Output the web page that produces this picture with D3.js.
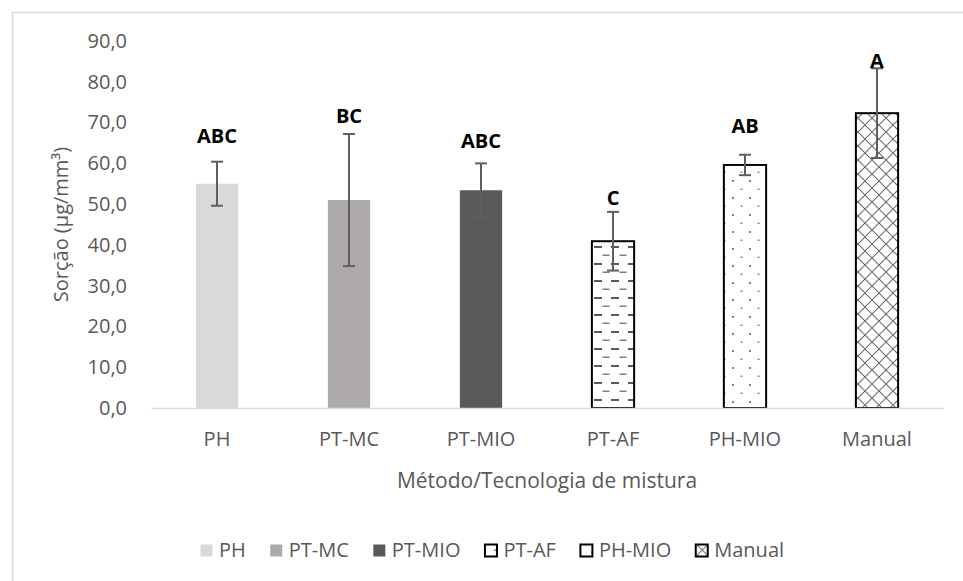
<!DOCTYPE html>
<html>
<head>
<meta charset="utf-8">
<script src="https://cdn.jsdelivr.net/npm/d3@7"></script>
<style>
    body { margin: 0; background: #fff; }
    svg { display: block; font-family: "Open Sans", sans-serif; }
</style>
</head>
<body>
<div id="chart"></div>
<script>
    var categories = ["PH", "PT-MC", "PT-MIO", "PT-AF", "PH-MIO", "Manual"];
    var means = [55.0, 51.0, 53.4, 40.9, 59.6, 72.3];
    var errors = [5.4, 16.2, 6.6, 7.2, 2.5, 11.0];
    var letters = ["ABC", "BC", "ABC", "C", "AB", "A"];
    var letterAt = [65.0, 69.9, 63.7, 49.8, 67.4, 83.3];
    var yTicks = [0, 10, 20, 30, 40, 50, 60, 70, 80, 90];

    var width = 963, height = 581,
        margin = {top: 41, right: 20, bottom: 173, left: 151},
        plotW = 943 - margin.left,
        plotH = 408 - margin.top,
        textColor = "#595959",
        axisColor = "#d9d9d9";

    // fill per category: solid greys, then three hatched ones
    var fills = ["#d9d9d9", "#aeaaaa", "#595959", "url(#dash)", "url(#dots)", "url(#cross)"];
    var outlined = [false, false, false, true, true, true];

    var svg = d3.select("#chart").append("svg")
        .attr("width", width)
        .attr("height", height);

    var defs = svg.append("defs");

    var dash = defs.append("pattern")
        .attr("id", "dash")
        .attr("patternUnits", "userSpaceOnUse")
        .attr("width", 17).attr("height", 17);
    dash.append("rect").attr("width", 17).attr("height", 17).attr("fill", "#fff");
    dash.append("rect").attr("x", 1).attr("y", 1).attr("width", 8).attr("height", 2).attr("fill", "#595959");
    dash.append("rect").attr("x", 9.5).attr("y", 9.5).attr("width", 7).attr("height", 1.5).attr("fill", "#7f7f7f");

    var dots = defs.append("pattern")
        .attr("id", "dots")
        .attr("patternUnits", "userSpaceOnUse")
        .attr("width", 17).attr("height", 17);
    dots.append("rect").attr("width", 17).attr("height", 17).attr("fill", "#fff");
    dots.append("rect").attr("x", 3).attr("y", 3).attr("width", 2).attr("height", 2).attr("fill", "#7f7f7f");
    dots.append("rect").attr("x", 11.5).attr("y", 11.5).attr("width", 2).attr("height", 1.5).attr("fill", "#8c8c8c");

    var cross = defs.append("pattern")
        .attr("id", "cross")
        .attr("patternUnits", "userSpaceOnUse")
        .attr("width", 14).attr("height", 14);
    cross.append("rect").attr("width", 14).attr("height", 14).attr("fill", "#fff");
    cross.append("path")
        .attr("d", "M0,0L14,14M14,0L0,14")
        .attr("stroke", "#6f6f6f")
        .attr("stroke-width", 1.1)
        .attr("fill", "none");

    // chart area border (cropped on the right and bottom)
    svg.append("path")
        .attr("d", "M12.5," + height + "V12.5H" + width)
        .attr("fill", "none")
        .attr("stroke", axisColor)
        .attr("stroke-width", 1.5);

    var g = svg.append("g")
        .attr("transform", "translate(" + margin.left + "," + margin.top + ")");

    var x = d3.scaleBand().domain(categories).range([0, plotW]).paddingInner(0.68).paddingOuter(0.34);
    var y = d3.scaleLinear().domain([0, 90]).range([plotH, 0]);

    // y axis labels only
    var yAxis = d3.axisLeft(y)
        .tickValues(yTicks)
        .tickSize(0)
        .tickPadding(24)
        .tickFormat(function (d) { return d3.format(".1f")(d).replace(".", ","); });
    var yG = g.append("g").call(yAxis);
    yG.select(".domain").remove();
    yG.selectAll("text")
        .attr("fill", textColor)
        .style("font-size", "20px")
        .style("font-family", "Open Sans, sans-serif");

    // bars
    g.selectAll(".bar")
        .data(categories)
        .enter()
        .append("rect")
        .attr("class", "bar")
        .attr("x", function (d) { return x(d); })
        .attr("y", function (d, i) { return y(means[i]); })
        .attr("width", x.bandwidth())
        .attr("height", function (d, i) { return y(0) - y(means[i]); })
        .attr("fill", function (d, i) { return fills[i]; })
        .attr("stroke", function (d, i) { return outlined[i] ? "#000" : "none"; })
        .attr("stroke-width", 2);

    // x axis
    var xAxis = d3.axisBottom(x).tickSize(0).tickPadding(24);
    var xG = g.append("g")
        .attr("transform", "translate(0," + plotH + ")")
        .call(xAxis);
    xG.select(".domain")
        .attr("stroke", axisColor)
        .attr("stroke-width", 1.5);
    xG.selectAll("text")
        .attr("fill", textColor)
        .style("font-size", "20px")
        .style("font-family", "Open Sans, sans-serif");

    // error bars
    var err = g.selectAll(".err")
        .data(categories)
        .enter()
        .append("g")
        .attr("class", "err")
        .attr("transform", function (d) { return "translate(" + (x(d) + x.bandwidth() / 2) + ",0)"; })
        .attr("stroke", "#5f5f5f")
        .attr("stroke-width", 2);
    err.append("line")
        .attr("y1", function (d, i) { return y(means[i] + errors[i]); })
        .attr("y2", function (d, i) { return y(means[i] - errors[i]); });
    err.append("line")
        .attr("x1", -6).attr("x2", 6)
        .attr("y1", function (d, i) { return y(means[i] + errors[i]); })
        .attr("y2", function (d, i) { return y(means[i] + errors[i]); });
    err.append("line")
        .attr("x1", -6).attr("x2", 6)
        .attr("y1", function (d, i) { return y(means[i] - errors[i]); })
        .attr("y2", function (d, i) { return y(means[i] - errors[i]); });

    // significance letters
    g.selectAll(".letter")
        .data(categories)
        .enter()
        .append("text")
        .attr("class", "letter")
        .attr("x", function (d) { return x(d) + x.bandwidth() / 2; })
        .attr("y", function (d, i) { return y(letterAt[i]); })
        .attr("text-anchor", "middle")
        .attr("font-size", 20)
        .attr("font-weight", "bold")
        .attr("fill", "#000")
        .text(function (d, i) { return letters[i]; });

    // axis titles
    g.append("text")
        .attr("x", plotW / 2)
        .attr("y", 488 - margin.top)
        .attr("text-anchor", "middle")
        .attr("font-size", 21)
        .attr("fill", textColor)
        .text("Método/Tecnologia de mistura");

    g.append("text")
        .attr("transform", "translate(" + (68 - margin.left) + "," + (plotH / 2) + ") rotate(-90)")
        .attr("text-anchor", "middle")
        .attr("font-size", 20)
        .attr("fill", textColor)
        .text("Sorção (µg/mm³)");

    // legend
    var legend = svg.append("g").attr("class", "legend");
    var items = legend.selectAll(".item")
        .data(categories)
        .enter()
        .append("g")
        .attr("class", "item");
    items.append("rect")
        .attr("x", 0.5).attr("y", -12.5)
        .attr("width", 12).attr("height", 12)
        .attr("fill", function (d, i) { return fills[i]; })
        .attr("stroke", function (d, i) { return outlined[i] ? "#000" : "none"; })
        .attr("stroke-width", 2);
    items.append("text")
        .attr("x", 19)
        .attr("y", 0)
        .attr("font-size", 20)
        .attr("fill", textColor)
        .text(function (d) { return d; });

    var offsets = [], pos = 0;
    items.each(function () {
        offsets.push(pos);
        pos += 19 + d3.select(this).select("text").node().getComputedTextLength() + 24;
    });
    var total = pos - 24, startX = 492 - total / 2;
    items.attr("transform", function (d, i) { return "translate(" + (startX + offsets[i]) + ",557)"; });
</script>
</body>
</html>
